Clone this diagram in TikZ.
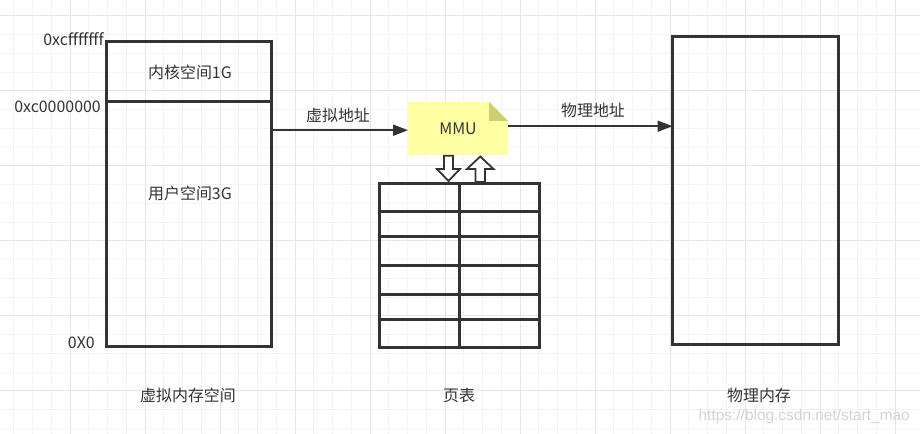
\documentclass[tikz,border=0pt]{standalone}
\usepackage{fontspec}
\setmainfont{Noto Sans CJK SC}
\newfontfamily\wmfont{Liberation Sans}
\usetikzlibrary{arrows.meta}
\definecolor{linegray}{HTML}{333333}
\definecolor{gridminor}{HTML}{F3F3F3}
\definecolor{gridmajor}{HTML}{E6E6E6}
\definecolor{notefill}{HTML}{FFFFA3}
\definecolor{notefold}{HTML}{CFCF72}
\tikzset{
  membox/.style={draw=linegray,line width=3bp,inner sep=0pt,outer sep=0pt,anchor=north west},
  rowline/.style={draw=linegray,line width=3bp},
  lbl/.style={text=linegray,font=\fontsize{16}{18}\selectfont,inner sep=0pt},
  link/.style={draw=linegray,line width=2bp,-{Triangle[length=15bp,width=11bp]}},
  blockarrow/.style={draw=linegray,fill=white,line width=1.8bp,line join=miter},
}
\begin{document}
\begin{tikzpicture}[x=1bp,y=-1bp]
    \fill[white] (0,0) rectangle (920,434);
    \useasboundingbox (0,0) rectangle (920,434);
    \foreach \x in {13.75,32.5,...,910} \draw[gridminor,line width=1bp] (\x,0) -- (\x,434);
    \foreach \y in {16,34.75,...,434} \draw[gridminor,line width=1bp] (0,\y) -- (920,\y);
    \foreach \x in {70,145,...,910} \draw[gridmajor,line width=1bp] (\x,0) -- (\x,434);
    \foreach \y in {16,91,...,434} \draw[gridmajor,line width=1bp] (0,\y) -- (920,\y);

    \node[membox,minimum width=165bp,minimum height=60bp] (kernel) at (106.5,41.5) {};
    \node[membox,minimum width=165bp,minimum height=245bp] (user) at (106.5,101.5) {};
    \node[lbl] (kerneltxt) at (190,72) {内核空间1G};
    \node[lbl] (usertxt) at (190,193) {用户空间3G};
    \node[lbl,anchor=base east] (addrtop) at (104,46) {0xcfffffff};
    \node[lbl,anchor=base east] (addrmid) at (101,113) {0xc0000000};
    \node[lbl,anchor=base east] (addrlow) at (95,349) {0X0};
    \node[lbl] (vmemtxt) at (188,395) {虚拟内存空间};

    \fill[notefill] (408,102) -- (489,102) -- (508,121) -- (508,155) -- (408,155) -- cycle;
    \fill[notefold] (489,102) -- (489,121) -- (508,121) -- cycle;
    \node[lbl,minimum width=100bp,minimum height=53bp,anchor=north west] (mmubox) at (408,102) {};
    \node[lbl] (mmutxt) at (458,128.5) {MMU};

    \node[membox,minimum width=160bp,minimum height=164bp] (ptable) at (379.5,183.5) {};
    \foreach \y in {211.5,236.5,265.5,294.5,319.5} \draw[rowline] (ptable.west |- 0,\y) -- (ptable.east |- 0,\y);
    \draw[rowline] (459.5,183.5) -- (459.5,347.5);
    \node[lbl] (ptabletxt) at (459,395) {页表};

    \draw[blockarrow] (444,155.7) -- (453,155.7) -- (453,169) -- (460,169) -- (448.5,181) -- (437,169) -- (444,169) -- cycle;
    \draw[blockarrow] (475.5,182) -- (485,182) -- (485,169) -- (493.5,169) -- (480.3,156.5) -- (467,169) -- (475.5,169) -- cycle;

    \node[membox,minimum width=166bp,minimum height=308bp] (phys) at (672.5,36.5) {};
    \node[lbl] (phystxt) at (759,395) {物理内存};

    \draw[link] ([yshift=-1.5bp]mmubox.west -| user.east) -- ([yshift=-1.5bp]mmubox.west);
    \node[lbl] (vaddrtxt) at (338,115) {虚拟地址};
    \draw[link] ([yshift=2.5bp]mmubox.east) -- ([yshift=2.5bp]mmubox.east -| phys.west);
    \node[lbl] (paddrtxt) at (593,110) {物理地址};

    \node[text=black!17,font=\wmfont\fontsize{15.5}{17}\selectfont,anchor=east,inner sep=0pt] (wmark) at (910,417) {https://blog.csdn.net/start\_mao};
\end{tikzpicture}
\end{document}
